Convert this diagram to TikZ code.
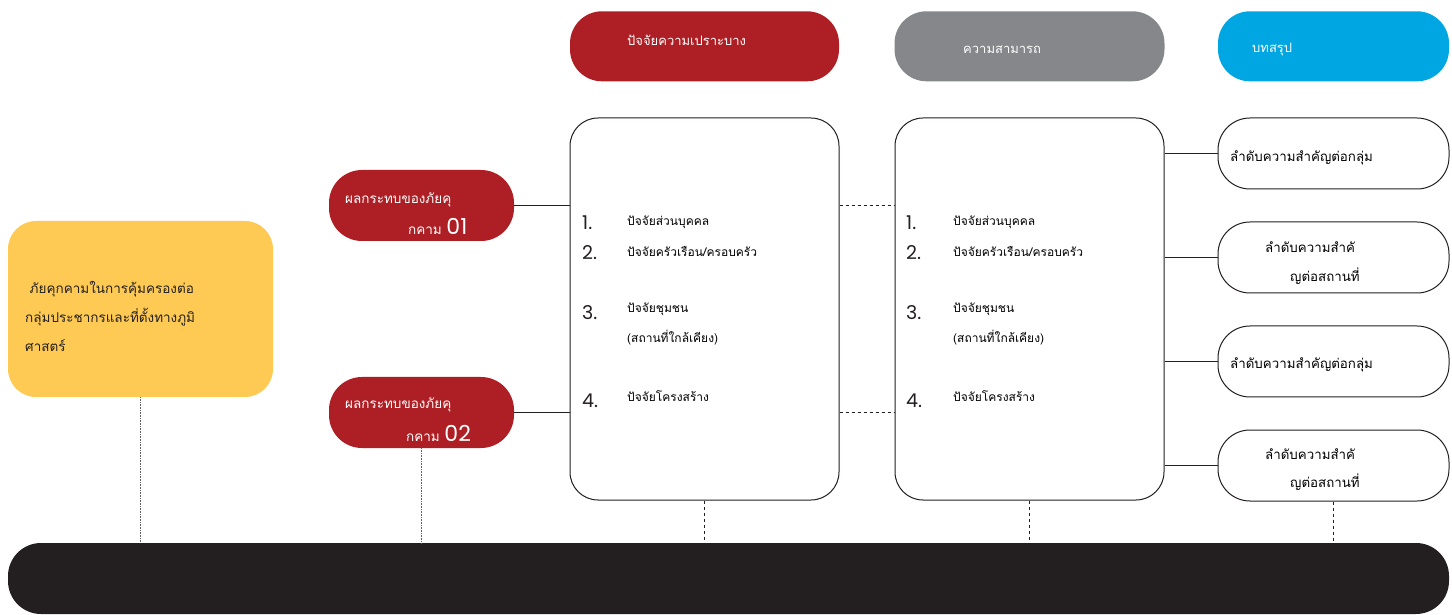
\documentclass[tikz,border=0pt]{standalone}
\usepackage{fontspec}
\setmainfont[Script=Thai]{Loma}
\newfontfamily\numfont{Poppins}
\usetikzlibrary{positioning}
\definecolor{threatyellow}{HTML}{FECA54}
\definecolor{threatred}{HTML}{AD1F24}
\definecolor{abilitygray}{HTML}{86878A}
\definecolor{summaryblue}{HTML}{00A6E2}
\definecolor{inkblack}{HTML}{231F20}
\tikzstyle{softbox}   = [rectangle, fill=threatyellow, rounded corners=28pt, minimum width=265pt, minimum height=176pt]
\tikzstyle{redpill}   = [rectangle, fill=threatred, rounded corners=33pt, minimum width=185pt, minimum height=71pt]
\tikzstyle{bigbox}    = [rectangle, draw=inkblack, line width=1pt, fill=white, rounded corners=28pt, minimum width=269pt, minimum height=382pt]
\tikzstyle{headpill}  = [rectangle, rounded corners=32pt, minimum height=70pt]
\tikzstyle{sumpill}   = [rectangle, draw=inkblack, line width=1pt, rounded corners=32pt, minimum width=231pt, minimum height=71pt]
\tikzstyle{basebar}   = [rectangle, fill=inkblack, rounded corners=33pt, minimum width=1441pt, minimum height=71pt]
\tikzstyle{txt}       = [inner sep=0pt, anchor=west, font=\fontsize{12}{14}\selectfont]
\tikzstyle{numtxt}    = [inner sep=0pt, anchor=west, font=\numfont\fontsize{19}{21}\selectfont, text=inkblack]
\tikzstyle{line}      = [draw=inkblack, line width=1pt]
\tikzstyle{dashline}  = [draw=inkblack, dashed, line width=0.8pt]
\tikzstyle{dotline}   = [draw=inkblack!70, densely dotted, line width=0.6pt]

\begin{document}
\begin{tikzpicture}[x=1pt, y=1pt, node distance=36pt]
        \useasboundingbox (0,0) rectangle (1452,614);
        \node [softbox] (threat) at (140.5,305) {};
        \node [redpill] (red1) at (421.5,408.5) {};
        \node [redpill] (red2) at (421.5,201.5) {};
        \node [bigbox] (box1) at (704.5,305) {};
        \node [bigbox, right=55pt of box1] (box2) {};
        \node [headpill, fill=threatred, minimum width=269pt, above=of box1] (head1) {};
        \node [headpill, fill=abilitygray, minimum width=270pt, above=of box2] (head2) {};
        \node [sumpill] (sum1) at (1333.5,460.5) {};
        \node [sumpill, below=32pt of sum1] (sum2) {};
        \node [sumpill, below=32pt of sum2] (sum3) {};
        \node [sumpill, below=32pt of sum3] (sum4) {};
        \node [headpill, fill=summaryblue, minimum width=231pt, above=of sum1] (head3) {};
        \node [basebar] (base) at (728.5,35.5) {};

        % texts
        \node [txt, align=left, font=\fontsize{13.5}{29}\selectfont, text=inkblack] (threattxt) at (25,298)
              {\ ภัยคุกคามในการคุ้มครองต่อ\\กลุ่มประชากรและที่ตั้งทางภูมิ\\ศาสตร์};
        \node [txt, text=white, font=\fontsize{13.5}{16}\selectfont] (red1a) at (345,414) {ผลกระทบของภัยคุ};
        \node [txt, text=white, font=\fontsize{13.5}{16}\selectfont] (red1b) at (408,388) {กคาม {\numfont\fontsize{22}{24}\selectfont 01}};
        \node [txt, text=white, font=\fontsize{13.5}{16}\selectfont] (red2a) at (345,209) {ผลกระทบของภัยคุ};
        \node [txt, text=white, font=\fontsize{13.5}{16}\selectfont] (red2b) at (406,181) {กคาม {\numfont\fontsize{22}{24}\selectfont 02}};
        \node [txt, text=white, font=\fontsize{13}{16}\selectfont] (head1txt) at (627,574) {ปัจจัยความเปราะบาง};
        \node [txt, text=white, font=\fontsize{13}{16}\selectfont] (head2txt) at (963,564) {ความสามารถ};
        \node [txt, text=white, font=\fontsize{13}{16}\selectfont] (head3txt) at (1252,564) {บทสรุป};
        \foreach \bx/\nx/\tx in {box1/582/627, box2/906/953} {
          \node [numtxt] (\bx-n1) at (\nx,391) {1.};
          \node [numtxt] (\bx-n2) at (\nx,361) {2.};
          \node [numtxt] (\bx-n3) at (\nx,301) {3.};
          \node [numtxt] (\bx-n4) at (\nx,213) {4.};
          \node [txt] (\bx-t1) at (\tx,392) {ปัจจัยส่วนบุคคล};
          \node [txt] (\bx-t2) at (\tx,363) {ปัจจัยครัวเรือน/ครอบครัว};
          \node [txt] (\bx-t3) at (\tx,305) {ปัจจัยชุมชน};
          \node [txt] (\bx-t3b) at (\tx,276) {(สถานที่ใกล้เคียง)};
          \node [txt] (\bx-t4) at (\tx,218) {ปัจจัยโครงสร้าง};
        }
        \node [txt, font=\fontsize{13.3}{16}\selectfont] (sum1txt) at (1230,456) {ลำดับความสำคัญต่อกลุ่ม};
        \node [txt, font=\fontsize{13.3}{16}\selectfont] (sum2a) at (1265,367) {ลำดับความสำคั};
        \node [txt, font=\fontsize{13.3}{16}\selectfont] (sum2b) at (1290,338) {ญต่อสถานที่};
        \node [txt, font=\fontsize{13.3}{16}\selectfont] (sum3txt) at (1230,249) {ลำดับความสำคัญต่อกลุ่ม};
        \node [txt, font=\fontsize{13.3}{16}\selectfont] (sum4a) at (1265,160) {ลำดับความสำคั};
        \node [txt, font=\fontsize{13.3}{16}\selectfont] (sum4b) at (1290,132) {ญต่อสถานที่};

        % connectors
        \path [line] (red1.east) -- (red1.east -| box1.west);
        \path [line] (red2.east) -- (red2.east -| box1.west);
        \path [dashline] (box1.east |- red1) -- (box2.west |- red1);
        \path [dashline] (box1.east |- red2) -- (box2.west |- red2);
        \path [line] (box2.east |- sum1) -- (sum1.west);
        \path [line] (box2.east |- sum2) -- (sum2.west);
        \path [line] (box2.east |- sum3) -- (sum3.west);
        \path [line] (box2.east |- sum4) -- (sum4.west);
        \path [dotline] (threat.south) -- (threat.south |- base.north);
        \path [dotline] (red2.south) -- (red2.south |- base.north);
        \path [dashline] (box1.south) -- (box1.south |- base.north);
        \path [dashline] (box2.south) -- (box2.south |- base.north);
        \path [dashline] (sum4.south) -- (sum4.south |- base.north);
      \end{tikzpicture}
\end{document}
